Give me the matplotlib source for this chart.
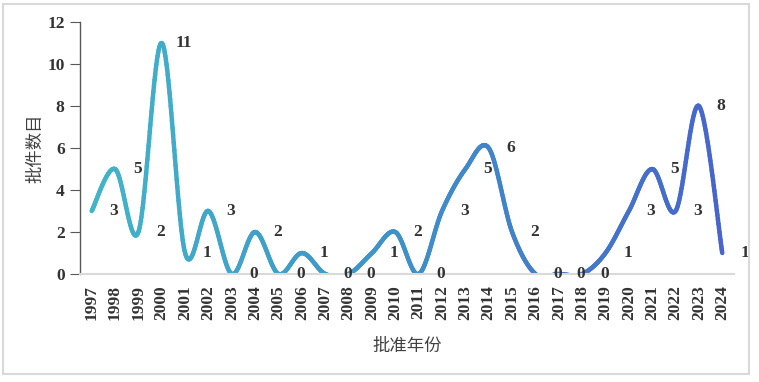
import numpy as np
import matplotlib.pyplot as plt
from matplotlib.collections import LineCollection
from matplotlib.colors import LinearSegmentedColormap
from matplotlib.patches import Rectangle

years = [str(y) for y in range(1997, 2025)]
counts = [3, 5, 2, 11, 1, 3, 0, 2, 0, 1, 0, 0, 1, 2, 0, 3, 5, 6, 2, 0, 0, 0, 1, 3, 5, 3, 8, 1]

serif = ['Liberation Serif', 'DejaVu Serif']
cjk = ['Noto Sans CJK SC', 'DejaVu Sans']


def smooth(xs, ys, n=40):
    # Excel-style smoothed line (Catmull-Rom as cubic Bezier)
    xs = np.asarray(xs, float)
    ys = np.asarray(ys, float)
    px = np.concatenate([[xs[0]], xs, [xs[-1]]])
    py = np.concatenate([[ys[0]], ys, [ys[-1]]])
    out_x, out_y = [], []
    t = np.linspace(0, 1, n)
    for i in range(1, len(px) - 2):
        p0 = np.array([px[i], py[i]])
        p3 = np.array([px[i + 1], py[i + 1]])
        c1 = p0 + (np.array([px[i + 1], py[i + 1]]) - np.array([px[i - 1], py[i - 1]])) / 6
        c2 = p3 - (np.array([px[i + 2], py[i + 2]]) - np.array([px[i], py[i]])) / 6
        b = ((1 - t) ** 3)[:, None] * p0 + (3 * (1 - t) ** 2 * t)[:, None] * c1 \
            + (3 * (1 - t) * t ** 2)[:, None] * c2 + (t ** 3)[:, None] * p3
        if i > 1:
            b = b[1:]
        out_x.extend(b[:, 0])
        out_y.extend(b[:, 1])
    return np.array(out_x), np.array(out_y)


fig = plt.figure(figsize=(7.59, 3.82), dpi=100)
fig.patches.append(Rectangle((0.004, 0.02), 0.983, 0.97, transform=fig.transFigure,
                             fill=False, edgecolor='#d9d9d9', linewidth=1.5))
ax = fig.add_axes([0.1054, 0.2827, 0.8616, 0.6596])

x = np.arange(len(years))
sx, sy = smooth(x, counts)
pts = np.column_stack([sx, sy]).reshape(-1, 1, 2)
segs = np.concatenate([pts[:-1], pts[1:]], axis=1)
cmap = LinearSegmentedColormap.from_list('g', ['#42b4c9', '#3f90c8', '#4765cc'])
lc = LineCollection(segs, cmap=cmap, linewidth=3.2, capstyle='round')
lc.set_array(sx[:-1])
lc.set_clim(0, len(years) - 1)
ax.add_collection(lc)

for i, v in enumerate(counts):
    ax.text(i + 0.95, v, str(v), ha='center', va='center', fontsize=12.5,
            fontweight='bold', family=serif, color='#333333')

ax.set_xlim(-0.5, len(years) - 0.5)
ax.set_ylim(0, 12)
ax.set_yticks(range(0, 13, 2))
ax.set_xticks(x)
ax.set_xticklabels(years, rotation=90, family=serif, fontweight='bold', fontsize=12.5,
                   color='#333333')
for lab in ax.get_yticklabels():
    lab.set_family(serif)
    lab.set_fontweight('bold')
    lab.set_fontsize(12.5)
    lab.set_color('#333333')

for s in ['top', 'right']:
    ax.spines[s].set_visible(False)
ax.spines['left'].set_color('#595959')
ax.spines['left'].set_linewidth(1.0)
ax.spines['bottom'].set_color('#d9d9d9')
ax.spines['bottom'].set_linewidth(1.5)
ax.tick_params(axis='x', length=0, pad=8)
ax.tick_params(axis='y', length=7, color='#595959', pad=4)

ax.set_ylabel('批件数目', family=cjk, fontsize=12.5, color='#404040', labelpad=2)
ax.set_xlabel('批准年份', family=cjk, fontsize=12.5, color='#404040', labelpad=12)

fig.savefig('out.png', dpi=100)
